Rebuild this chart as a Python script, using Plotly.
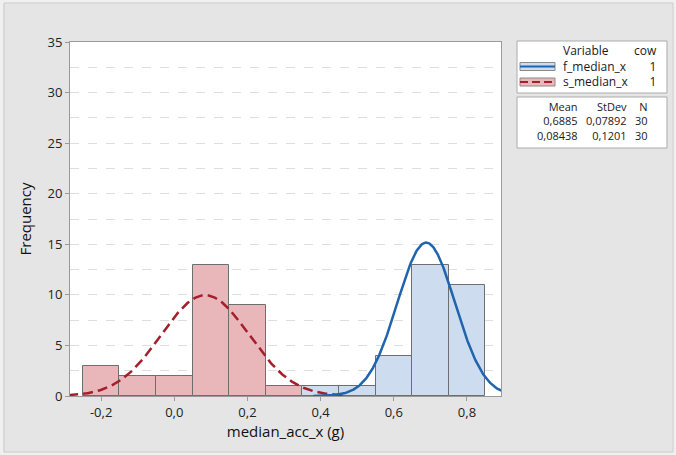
import numpy as np
import plotly.graph_objects as go

# ---- data ----
s_centers = [-0.2, -0.1, 0.0, 0.1, 0.2, 0.3]
s_counts = [3, 2, 2, 13, 9, 1]
f_centers = [0.4, 0.5, 0.6, 0.7, 0.8]
f_counts = [1, 1, 4, 13, 11]
bin_width = 0.1
series_names = ["f_median_x", "s_median_x"]
cow_vals = ["1", "1"]
means = [0.6885, 0.08438]
stdevs = [0.07892, 0.1201]
ns = [30, 30]
mean_txt = ["0,6885", "0,08438"]
sd_txt = ["0,07892", "0,1201"]
n_txt = ["30", "30"]
xtick_vals = [-0.2, 0.0, 0.2, 0.4, 0.6, 0.8]
xtick_text = ["-0,2", "0,0", "0,2", "0,4", "0,6", "0,8"]
ytick_vals = [0, 5, 10, 15, 20, 25, 30, 35]

W, H = 676, 455
L, R, T, B = 70, 501, 42, 396

def px(x):
    return (x - L) / (R - L)

def py(y):
    return (B - y) / (B - T)

FONT = "Open Sans"
S_FILL = "#e9b7b9"
F_FILL = "#cddcee"
S_LINE = "#a31f2b"
F_LINE = "#1f64ad"
EDGE = "#6e6e6e"

fig = go.Figure()
fig.add_trace(go.Bar(x=s_centers, y=s_counts, width=bin_width, marker=dict(color=S_FILL, line=dict(color=EDGE, width=1))))
fig.add_trace(go.Bar(x=f_centers, y=f_counts, width=bin_width, marker=dict(color=F_FILL, line=dict(color=EDGE, width=1))))

def normal_curve(m, s, n, lo, hi):
    xs = np.linspace(lo, hi, 300)
    ys = n * bin_width * np.exp(-0.5 * ((xs - m) / s) ** 2) / (s * np.sqrt(2 * np.pi))
    return xs, ys

xs, ys = normal_curve(means[1], stdevs[1], ns[1], -0.29, 0.47)
fig.add_trace(go.Scatter(x=xs, y=ys, mode="lines", line=dict(color=S_LINE, width=2.5, dash="10px,5px")))
xs, ys = normal_curve(means[0], stdevs[0], ns[0], 0.38, 0.9)
fig.add_trace(go.Scatter(x=xs, y=ys, mode="lines", line=dict(color=F_LINE, width=2.5)))

shapes = []
# outer frame
shapes.append(dict(type="rect", xref="paper", yref="paper", x0=px(0), x1=px(W), y0=py(H), y1=py(0),
                   line=dict(color="#f0f0f0", width=7), fillcolor="rgba(0,0,0,0)", layer="below"))
shapes.append(dict(type="rect", xref="paper", yref="paper", x0=px(4), x1=px(673), y0=py(452), y1=py(3),
                   line=dict(color="#c9c9c9", width=1), fillcolor="rgba(0,0,0,0)", layer="below"))
# legend boxes
shapes.append(dict(type="rect", xref="paper", yref="paper", x0=px(517), x1=px(667), y0=py(93), y1=py(41),
                   line=dict(color="#ababab", width=1), fillcolor="white"))
shapes.append(dict(type="rect", xref="paper", yref="paper", x0=px(517), x1=px(667), y0=py(148), y1=py(97),
                   line=dict(color="#ababab", width=1), fillcolor="white"))
# swatches
for i, (fill, lc, dash) in enumerate([(F_FILL, F_LINE, "solid"), (S_FILL, S_LINE, "8px,4px")]):
    yc = 66.5 + 15.5 * i
    shapes.append(dict(type="rect", xref="paper", yref="paper", x0=px(520), x1=px(555), y0=py(yc + 4), y1=py(yc - 4),
                       line=dict(color="#8a8a8a", width=1), fillcolor=fill))
    shapes.append(dict(type="line", xref="paper", yref="paper", x0=px(520), x1=px(555), y0=py(yc), y1=py(yc),
                       line=dict(color=lc, width=2, dash=dash)))

ann = []
def col(x, y_top, lines, anchor, size):
    ann.append(dict(xref="paper", yref="paper", x=px(x), y=py(y_top), text="<br>".join(lines),
                    showarrow=False, xanchor=anchor, yanchor="top", align=anchor, borderpad=0,
                    font=dict(family=FONT, size=size, color="#1a1a1a")))

# legend box 1
col(562, 41.5, ["Variable"] + series_names, "left", 12)
col(658, 41.5, ["cow"] + cow_vals, "right", 12)
# legend box 2
col(579, 97.5, ["Mean"] + mean_txt, "right", 11)
col(628, 97.5, ["StDev"] + sd_txt, "right", 11)
col(649, 97.5, ["N"] + n_txt, "right", 11)

fig.update_layout(
    width=W, height=H,
    margin=dict(l=L, r=W - R, t=T, b=H - B),
    paper_bgcolor="#e5e5e5", plot_bgcolor="white",
    barmode="overlay", bargap=0, showlegend=False,
    shapes=shapes, annotations=ann,
    font=dict(family=FONT, color="#222"),
)
fig.update_xaxes(range=[-0.285, 0.893], tickvals=xtick_vals, ticktext=xtick_text,
                 showgrid=False, zeroline=False, showline=True, mirror=True, linecolor="#9a9a9a", linewidth=1,
                 ticks="outside", ticklen=4, tickcolor="#9a9a9a", tickfont=dict(size=13, color="#222"),
                 title=dict(text="median_acc_x (g)", font=dict(size=15, color="#111"), standoff=6))
fig.update_yaxes(range=[0, 35], tickvals=ytick_vals,
                 showgrid=True, gridcolor="#dedede", griddash="dash", gridwidth=1,
                 minor=dict(dtick=2.5, tick0=0, showgrid=True, gridcolor="#dedede", griddash="dash", ticks=""),
                 zeroline=False, showline=True, mirror=True, linecolor="#9a9a9a", linewidth=1,
                 ticks="outside", ticklen=4, tickcolor="#9a9a9a", tickfont=dict(size=13, color="#222"),
                 title=dict(text="Frequency", font=dict(size=15, color="#111"), standoff=12))

fig.write_html("out.html")
